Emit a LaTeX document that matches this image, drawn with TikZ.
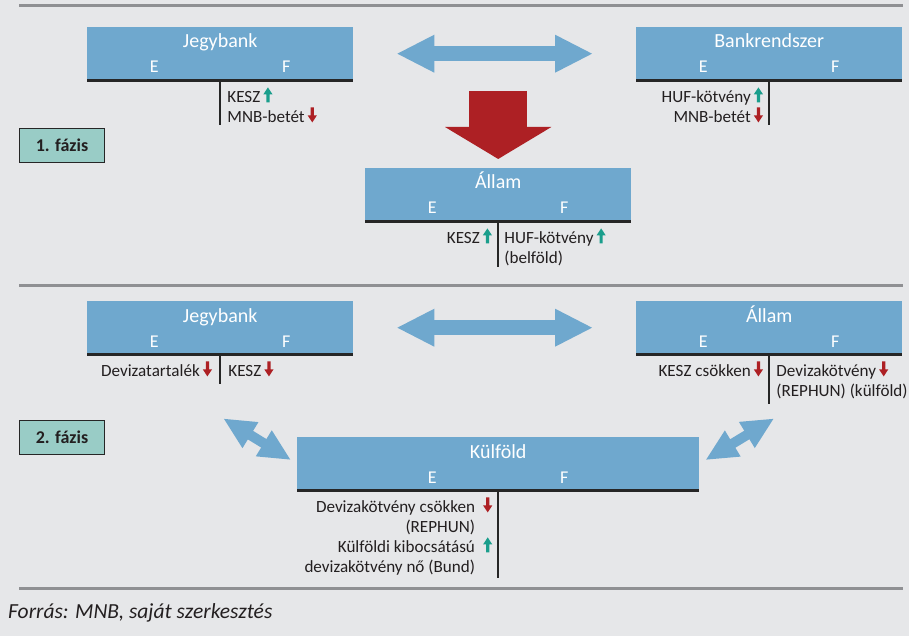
\documentclass[tikz,border=0pt]{standalone}
\usepackage{fontspec}
\setmainfont{Carlito}
\usetikzlibrary{calc,arrows.meta,positioning}

\definecolor{hatter}{RGB}{230,231,233}
\definecolor{kek}{RGB}{111,168,206}
\definecolor{piros}{RGB}{173,32,36}
\definecolor{zold}{RGB}{26,158,140}
\definecolor{szurke}{RGB}{143,144,147}
\definecolor{fazisszin}{RGB}{153,204,198}
\definecolor{szoveg}{RGB}{35,31,32}

\newcommand\felnyil{\hspace{3pt}\tikz[x=1pt,y=1pt,baseline=0pt]\fill[zold] (-1.6,0) -- (-1.6,8) -- (-4.6,8) -- (0,15) -- (4.6,8) -- (1.6,8) -- (1.6,0) -- cycle;}
\newcommand\lenyil{\hspace{3pt}\tikz[x=1pt,y=1pt,baseline=0pt]\fill[piros] (-1.6,15) -- (-1.6,7) -- (-4.6,7) -- (0,0) -- (4.6,7) -- (1.6,7) -- (1.6,15) -- cycle;}

\tikzset{
  fej/.style={fill=kek, minimum width=266pt, minimum height=53pt, inner sep=0pt, anchor=north west},
  cim/.style={text=white, font=\fontsize{20}{24}\selectfont, anchor=base, inner sep=0pt},
  oszlop/.style={text=white, font=\fontsize{18}{22}\selectfont, anchor=base, inner sep=0pt},
  tetel/.style={text=szoveg, font=\fontsize{17.1}{20}\selectfont, inner sep=0pt},
  vonal/.style={line width=2.5pt, draw=black!85},
  valaszto/.style={line width=3pt, draw=szurke},
  fazis/.style={draw=black!85, line width=1pt, fill=fazisszin, minimum width=85pt, minimum height=34pt, font=\bfseries\fontsize{18}{22}\selectfont, text=szoveg, anchor=north west, inner sep=0pt},
  kettos/.style={kek, line width=15pt, arrows={Triangle[width=35pt,length=38pt]-Triangle[width=35pt,length=38pt]}},
  ferde/.style={kek, line width=10pt, arrows={Triangle[width=28pt,length=32pt]-Triangle[width=28pt,length=32pt]}},
  nagynyil/.style={piros, line width=58pt, arrows={-Triangle[width=105pt,length=32pt]}},
}

\begin{document}
\begin{tikzpicture}[x=1pt,y=-1pt]
		%%%%% START %%%%%
		
		\fill[hatter] (0,0) rectangle (909,636);
		\useasboundingbox (0,0) rectangle (909,636);
		
		\draw[valaszto] (19,6) -- (903,6);
		\draw[valaszto] (19,285) -- (903,285);
		\draw[valaszto] (19,588) -- (903,588);
		
		% 1. fazis
		\node[fazis] (f1) at (19,128) {1. fázis};
		
		\node[fej] (jb1) at (87,27) {};
		\node[cim] (jb1c) at ($(jb1.north)+(0,21)$) {Jegybank};
		\node[oszlop] (jb1e) at ($(jb1.north)+(-66,46)$) {E};
		\node[oszlop] (jb1f) at ($(jb1.north)+(66,46)$) {F};
		\draw[vonal] (jb1.south west) -- (jb1.south east);
		\draw[vonal] (jb1.south) -- ++(0,45);
		\node[tetel, anchor=base west] (jb1t1) at ($(jb1.south)+(7,22)$) {KESZ\felnyil};
		\node[tetel, anchor=base west] (jb1t2) at ($(jb1.south)+(7,42)$) {MNB-betét\lenyil};
		
		\node[fej] (bk1) at (636,27) {};
		\node[cim] (bk1c) at ($(bk1.north)+(0,21)$) {Bankrendszer};
		\node[oszlop] (bk1e) at ($(bk1.north)+(-66,46)$) {E};
		\node[oszlop] (bk1f) at ($(bk1.north)+(66,46)$) {F};
		\draw[vonal] (bk1.south west) -- (bk1.south east);
		\draw[vonal] (bk1.south) -- ++(0,45);
		\node[tetel, anchor=base east] (bk1t1) at ($(bk1.south)+(-6,22)$) {HUF-kötvény\felnyil};
		\node[tetel, anchor=base east] (bk1t2) at ($(bk1.south)+(-6,42)$) {MNB-betét\lenyil};
		
		\node[fej] (al1) at (365,168) {};
		\node[cim] (al1c) at ($(al1.north)+(0,21)$) {Állam};
		\node[oszlop] (al1e) at ($(al1.north)+(-66,46)$) {E};
		\node[oszlop] (al1f) at ($(al1.north)+(66,46)$) {F};
		\draw[vonal] (al1.south west) -- (al1.south east);
		\draw[vonal] (al1.south) -- ++(0,46);
		\node[tetel, anchor=base east] (al1t1) at ($(al1.south)+(-6,22)$) {KESZ\felnyil};
		\node[tetel, anchor=base west] (al1t2) at ($(al1.south)+(6,22)$) {HUF-kötvény\felnyil};
		\node[tetel, anchor=base west] (al1t3) at ($(al1.south)+(6,42)$) {(belföld)};
		
		\draw[kettos, shorten <=43pt, shorten >=43pt] (jb1.east) -- (bk1.west);
		\coordinate (piroskezd) at ($(al1.north)+(0,-77)$);
		\draw[nagynyil, shorten >=9pt] (piroskezd) -- (al1.north);
		
		% 2. fazis
		\node[fazis] (f2) at (19,420) {2. fázis};
		
		\node[fej] (jb2) at (87,301) {};
		\node[cim] (jb2c) at ($(jb2.north)+(0,21)$) {Jegybank};
		\node[oszlop] (jb2e) at ($(jb2.north)+(-66,46)$) {E};
		\node[oszlop] (jb2f) at ($(jb2.north)+(66,46)$) {F};
		\draw[vonal] (jb2.south west) -- (jb2.south east);
		\draw[vonal] (jb2.south) -- ++(0,30);
		\node[tetel, anchor=base east] (jb2t1) at ($(jb2.south)+(-8,22)$) {Devizatartalék\lenyil};
		\node[tetel, anchor=base west] (jb2t2) at ($(jb2.south)+(8,22)$) {KESZ\lenyil};
		
		\node[fej] (al2) at (636,301) {};
		\node[cim] (al2c) at ($(al2.north)+(0,21)$) {Állam};
		\node[oszlop] (al2e) at ($(al2.north)+(-66,46)$) {E};
		\node[oszlop] (al2f) at ($(al2.north)+(66,46)$) {F};
		\draw[vonal] (al2.south west) -- (al2.south east);
		\draw[vonal] (al2.south) -- ++(0,50);
		\node[tetel, anchor=base east] (al2t1) at ($(al2.south)+(-6,22)$) {KESZ csökken\lenyil};
		\node[tetel, anchor=base west] (al2t2) at ($(al2.south)+(7,22)$) {Devizakötvény\lenyil};
		\node[tetel, anchor=base west] (al2t3) at ($(al2.south)+(7,42)$) {(REPHUN) (külföld)};
		
		\node[fej, minimum width=402pt] (kf) at (297,437) {};
		\node[cim] (kfc) at ($(kf.north)+(0,21)$) {Külföld};
		\node[oszlop] (kfe) at ($(kf.north)+(-66,46)$) {E};
		\node[oszlop] (kff) at ($(kf.north)+(66,46)$) {F};
		\draw[vonal] (kf.south west) -- (kf.south east);
		\draw[vonal] (kf.south) -- ++(0,88);
		\node[tetel, anchor=base east] (kft1) at ($(kf.south)+(-23,22)$) {Devizakötvény csökken};
		\node[tetel, anchor=base] (kft1n) at ($(kf.south)+(-12,22)$) {\lenyil};
		\node[tetel, anchor=base east] (kft2) at ($(kf.south)+(-23,42)$) {(REPHUN)};
		\node[tetel, anchor=base east] (kft3) at ($(kf.south)+(-23,62)$) {Külföldi kibocsátású};
		\node[tetel, anchor=base] (kft3n) at ($(kf.south)+(-12,62)$) {\felnyil};
		\node[tetel, anchor=base east] (kft4) at ($(kf.south)+(-23,82)$) {devizakötvény nő (Bund)};
		
		\draw[kettos, shorten <=43pt, shorten >=43pt] (jb2.east) -- (al2.west);
		\coordinate (jb2nyil) at ($(jb2.south)+(3,64)$);
		\coordinate (al2nyil) at ($(al2.south)+(5,64)$);
		\draw[ferde, shorten >=7pt] (jb2nyil) -- (kf.west);
		\draw[ferde, shorten >=7pt] (al2nyil) -- (kf.east);
		
		\node[anchor=base west, inner sep=0pt, font=\itshape\fontsize{21.5}{24}\selectfont, text=szoveg] (forras) at (8,618) {Forrás: MNB, saját szerkesztés};
		
		%%%%% END %%%%%
\end{tikzpicture}
\end{document}
